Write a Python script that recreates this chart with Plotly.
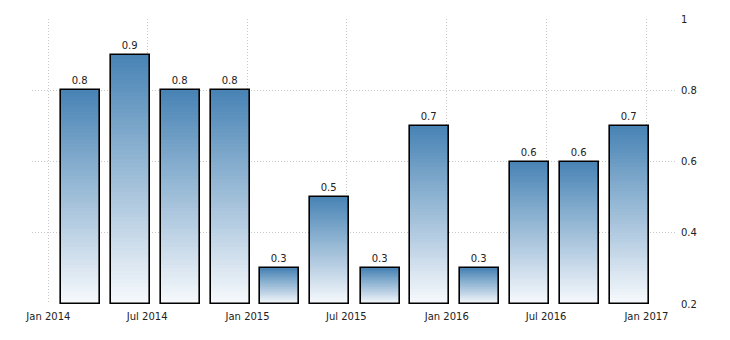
import plotly.graph_objects as go

# ---- data ----
dates = ["2014-03-01", "2014-06-01", "2014-09-01", "2014-12-01",
         "2015-03-01", "2015-06-01", "2015-09-01", "2015-12-01",
         "2016-03-01", "2016-06-01", "2016-09-01", "2016-12-01"]
values = [0.8, 0.9, 0.8, 0.8, 0.3, 0.5, 0.3, 0.7, 0.3, 0.6, 0.6, 0.7]
labels = ["0.8", "0.9", "0.8", "0.8", "0.3", "0.5", "0.3", "0.7", "0.3", "0.6", "0.6", "0.7"]
tick_dates = ["2014-01-01", "2014-07-01", "2015-01-01", "2015-07-01",
              "2016-01-01", "2016-07-01", "2017-01-01"]
tick_text = ["Jan 2014", "Jul 2014", "Jan 2015", "Jul 2015",
             "Jan 2016", "Jul 2016", "Jan 2017"]
y_ticks = [0.2, 0.4, 0.6, 0.8, 1.0]
y_tick_text = ["0.2", "0.4", "0.6", "0.8", "1"]

# ---- style ----
Y_MIN, Y_MAX = 0.2, 1.0
BAR_WIDTH_MS = 71.5 * 86400000
TOP = (70, 130, 180)
BOTTOM = (246, 249, 252)
N_SEG = 60
FONT = "DejaVu Sans"
TXT = "#222222"

def mix(t):
    r = [round(BOTTOM[i] + (TOP[i] - BOTTOM[i]) * t) for i in range(3)]
    return f"rgb({r[0]},{r[1]},{r[2]})"

# gradient fill: overlapping segments, each from its own start level to the bar top
gx, gy, gbase, gcol = [], [], [], []
for d, v in zip(dates, values):
    h = (v - Y_MIN) / N_SEG
    for k in range(N_SEG):
        b = Y_MIN + k * h
        gx.append(d)
        gbase.append(b)
        gy.append(v - b)
        gcol.append(mix(k / N_SEG))

fig = go.Figure()
fig.add_trace(go.Bar(
    x=gx, y=gy, base=gbase, width=[BAR_WIDTH_MS] * len(gx),
    marker=dict(color=gcol, line=dict(width=0)),
    hoverinfo="skip", showlegend=False,
))
fig.add_trace(go.Bar(
    x=dates, y=[v - Y_MIN for v in values], base=[Y_MIN] * len(values),
    width=[BAR_WIDTH_MS] * len(values),
    marker=dict(color="rgba(0,0,0,0)", line=dict(color="#000000", width=1.6)),
    text=labels, textposition="outside", cliponaxis=False,
    textfont=dict(family=FONT, size=10, color=TXT),
    showlegend=False,
))

fig.update_layout(
    width=730, height=340,
    margin=dict(l=32, r=53, t=19, b=36),
    paper_bgcolor="white", plot_bgcolor="white",
    barmode="overlay", bargap=0,
    font=dict(family=FONT, size=10, color=TXT),
    showlegend=False,
)
fig.update_xaxes(
    type="date", range=["2013-12-02", "2017-02-26"],
    tickvals=tick_dates, ticktext=tick_text,
    showgrid=True, gridcolor="#c8c8c8", griddash="1px,2px", gridwidth=1,
    showline=False, zeroline=False, ticks="", ticklabelstandoff=5,
    tickfont=dict(family=FONT, size=10, color=TXT),
)
fig.update_yaxes(
    side="right", range=[Y_MIN, Y_MAX],
    tickvals=y_ticks, ticktext=y_tick_text,
    showgrid=True, gridcolor="#c8c8c8", griddash="1px,2px", gridwidth=1,
    showline=False, zeroline=False, ticks="", ticklabelstandoff=3,
    tickfont=dict(family=FONT, size=10, color=TXT),
)

fig.write_html("out.html")
